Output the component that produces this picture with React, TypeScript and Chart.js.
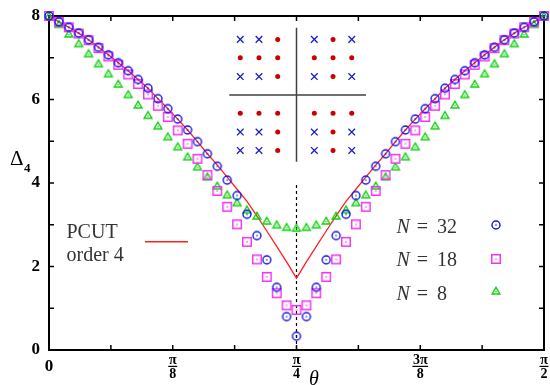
import { useEffect, useRef } from "react";
import { Chart, registerables } from "chart.js";
Chart.register(...registerables);

// theta / pi sampling
const thetaOverPi = [
  0, 0.01, 0.02, 0.03, 0.04, 0.05, 0.06, 0.07, 0.08, 0.09, 0.1, 0.11, 0.12, 0.13, 0.14, 0.15, 0.16,
  0.17, 0.18, 0.19, 0.2, 0.21, 0.22, 0.23, 0.24, 0.25, 0.26, 0.27, 0.28, 0.29, 0.3, 0.31, 0.32, 0.33,
  0.34, 0.35, 0.36, 0.37, 0.38, 0.39, 0.4, 0.41, 0.42, 0.43, 0.44, 0.45, 0.46, 0.47, 0.48, 0.49, 0.5,
];

const n32 = [
  8.0, 7.86, 7.73, 7.59, 7.43, 7.25, 7.07, 6.88, 6.69, 6.48, 6.27, 6.02, 5.78, 5.53, 5.27, 4.99, 4.7,
  4.4, 4.07, 3.7, 3.25, 2.74, 2.16, 1.5, 0.8, 0.33, 0.8, 1.5, 2.16, 2.74, 3.25, 3.7, 4.07, 4.4, 4.7,
  4.99, 5.27, 5.53, 5.78, 6.02, 6.27, 6.48, 6.69, 6.88, 7.07, 7.25, 7.43, 7.59, 7.73, 7.86, 8.0,
];
const n18 = [
  8.0, 7.86, 7.73, 7.58, 7.42, 7.23, 7.03, 6.83, 6.6, 6.37, 6.12, 5.85, 5.58, 5.26, 4.94, 4.58, 4.19,
  3.81, 3.43, 3.01, 2.59, 2.17, 1.75, 1.36, 1.07, 0.96, 1.07, 1.36, 1.75, 2.17, 2.59, 3.01, 3.43, 3.81,
  4.19, 4.58, 4.94, 5.26, 5.58, 5.85, 6.12, 6.37, 6.6, 6.83, 7.03, 7.23, 7.42, 7.58, 7.73, 7.86, 8.0,
];
const n8 = [
  8.0, 7.8, 7.57, 7.34, 7.1, 6.86, 6.62, 6.37, 6.12, 5.87, 5.62, 5.37, 5.11, 4.87, 4.63, 4.39, 4.15,
  3.93, 3.72, 3.53, 3.36, 3.21, 3.09, 3.0, 2.94, 2.92, 2.94, 3.0, 3.09, 3.21, 3.36, 3.53, 3.72, 3.93,
  4.15, 4.39, 4.63, 4.87, 5.11, 5.37, 5.62, 5.87, 6.12, 6.37, 6.62, 6.86, 7.1, 7.34, 7.57, 7.8, 8.0,
];
const pcut4 = [
  8.0, 7.86, 7.73, 7.59, 7.43, 7.25, 7.07, 6.88, 6.69, 6.48, 6.27, 6.02, 5.78, 5.53, 5.27, 4.99, 4.7,
  4.43, 4.14, 3.85, 3.56, 3.21, 2.85, 2.48, 2.11, 1.72, 2.11, 2.48, 2.85, 3.21, 3.56, 3.85, 4.14, 4.43,
  4.7, 4.99, 5.27, 5.53, 5.78, 6.02, 6.27, 6.48, 6.69, 6.88, 7.07, 7.25, 7.43, 7.59, 7.73, 7.86, 8.0,
];

const dashedX = [0.25, 0.25];
const dashedY = [0, 3.95];

const xTicks = [0, 0.0625, 0.125, 0.1875, 0.25, 0.3125, 0.375, 0.4375, 0.5];
const yTicks = [0, 1, 2, 3, 4, 5, 6, 7, 8];
const xLabelValues = [0, 0.125, 0.25, 0.375, 0.5];
const xLabelNum = ["0", "π", "π", "3π", "π"];
const xLabelDen = ["", "8", "4", "8", "2"];
const yLabelValues = [0, 2, 4, 6, 8];

// inset (lattice sketch)
const insetCols = [
  [0.1932, 0.2121, 0.231],
  [0.268, 0.2869, 0.3058],
];
const insetRows = [
  [7.44, 7.0, 6.55],
  [5.67, 5.22, 4.78],
];
const insetPattern = [
  [["xxo", "ooo", "xxo"], ["xox", "ooo", "xox"]],
  [["ooo", "xxo", "xxo"], ["ooo", "xox", "xox"]],
];
const insetH = { x0: 0.1821, x1: 0.3202, y: 6.11 };
const insetV = { x: 0.25, y0: 4.51, y1: 7.72 };

const legendLabels = ["N", "N", "N"];
const legendNums = ["32", "18", "8"];

const BLUE = "#1414e6";
const MAGENTA = "#f030f0";
const GREEN = "#10d010";
const RED = "#ff2020";
const SERIF = "'Liberation Serif', 'DejaVu Serif', serif";

function makeMarker(kind: string, color: string): HTMLCanvasElement {
  const c = document.createElement("canvas");
  c.width = 16;
  c.height = 16;
  const g = c.getContext("2d")!;
  g.strokeStyle = color;
  g.fillStyle = color;
  g.lineWidth = 1.4;
  g.beginPath();
  if (kind === "circle") {
    g.arc(8, 8, 4, 0, Math.PI * 2);
  } else if (kind === "square") {
    g.rect(3.75, 3.75, 8.5, 8.5);
  } else {
    g.moveTo(8, 4.3);
    g.lineTo(4.1, 11);
    g.lineTo(11.9, 11);
    g.closePath();
  }
  g.stroke();
  g.beginPath();
  g.arc(8, kind === "triangle" ? 8.8 : 8, 0.8, 0, Math.PI * 2);
  g.fill();
  return c;
}

export default function App() {
  const ref = useRef<HTMLCanvasElement | null>(null);
  useEffect(() => {
    if (!ref.current) return;
    const mCircle = makeMarker("circle", BLUE);
    const mSquare = makeMarker("square", MAGENTA);
    const mTri = makeMarker("triangle", GREEN);
    const pts = (ys: number[]) => thetaOverPi.map((x, i) => ({ x, y: ys[i] }));

    const deco = {
      id: "deco",
      beforeDatasetsDraw(chart: any) {
        const { ctx, chartArea: a } = chart;
        const x = chart.scales.x;
        const y = chart.scales.y;
        ctx.save();
        // inset
        ctx.strokeStyle = "#404040";
        ctx.lineWidth = 1.5;
        ctx.beginPath();
        ctx.moveTo(x.getPixelForValue(insetH.x0), y.getPixelForValue(insetH.y));
        ctx.lineTo(x.getPixelForValue(insetH.x1), y.getPixelForValue(insetH.y));
        ctx.moveTo(x.getPixelForValue(insetV.x), y.getPixelForValue(insetV.y0));
        ctx.lineTo(x.getPixelForValue(insetV.x), y.getPixelForValue(insetV.y1));
        ctx.stroke();
        for (let qr = 0; qr < 2; qr++) {
          for (let qc = 0; qc < 2; qc++) {
            const pat = insetPattern[qr][qc];
            for (let r = 0; r < 3; r++) {
              for (let cc = 0; cc < 3; cc++) {
                const px = x.getPixelForValue(insetCols[qc][cc]);
                const py = y.getPixelForValue(insetRows[qr][r]);
                if (pat[r][cc] === "x") {
                  ctx.strokeStyle = "#1a1acc";
                  ctx.lineWidth = 1.3;
                  ctx.beginPath();
                  ctx.moveTo(px - 3.3, py - 3.3);
                  ctx.lineTo(px + 3.3, py + 3.3);
                  ctx.moveTo(px + 3.3, py - 3.3);
                  ctx.lineTo(px - 3.3, py + 3.3);
                  ctx.stroke();
                } else {
                  ctx.fillStyle = "#cc0000";
                  ctx.beginPath();
                  ctx.arc(px, py, 2.5, 0, Math.PI * 2);
                  ctx.fill();
                }
              }
            }
          }
        }
        // frame
        ctx.strokeStyle = "#000";
        ctx.lineWidth = 2;
        ctx.strokeRect(a.left, a.top, a.right - a.left, a.bottom - a.top);
        ctx.lineWidth = 1.5;
        ctx.beginPath();
        for (const t of xTicks) {
          const px = x.getPixelForValue(t);
          ctx.moveTo(px, a.bottom);
          ctx.lineTo(px, a.bottom - 5);
          ctx.moveTo(px, a.top);
          ctx.lineTo(px, a.top + 5);
        }
        for (const t of yTicks) {
          const py = y.getPixelForValue(t);
          ctx.moveTo(a.left, py);
          ctx.lineTo(a.left + 5, py);
          ctx.moveTo(a.right, py);
          ctx.lineTo(a.right - 5, py);
        }
        ctx.stroke();
        ctx.restore();
      },
      afterDraw(chart: any) {
        const { ctx } = chart;
        const x = chart.scales.x;
        const y = chart.scales.y;
        ctx.save();
        ctx.fillStyle = "#000";
        // y tick labels
        ctx.font = `bold 17px ${SERIF}`;
        ctx.textAlign = "right";
        ctx.textBaseline = "middle";
        for (const v of yLabelValues) ctx.fillText(String(v), 40, y.getPixelForValue(v));
        // x tick labels
        ctx.textAlign = "center";
        xLabelValues.forEach((v, i) => {
          const px = x.getPixelForValue(v);
          if (!xLabelDen[i]) {
            ctx.font = `bold 17px ${SERIF}`;
            ctx.textBaseline = "middle";
            ctx.fillText(xLabelNum[i], px, 367);
          } else {
            ctx.font = `bold 14px ${SERIF}`;
            ctx.textBaseline = "alphabetic";
            ctx.fillText(xLabelNum[i], px, 364);
            ctx.fillText(xLabelDen[i], px, 378);
            const w = Math.max(9, ctx.measureText(xLabelNum[i]).width + 1);
            ctx.fillRect(px - w / 2, 365.8, w, 1.2);
          }
        });
        // axis titles
        ctx.textBaseline = "alphabetic";
        ctx.textAlign = "left";
        ctx.font = `21px ${SERIF}`;
        ctx.fillText("Δ", 10, 165);
        const dw = ctx.measureText("Δ").width;
        ctx.font = `bold 13px ${SERIF}`;
        ctx.fillText("4", 10 + dw + 0.5, 171.5);
        ctx.font = `italic 20px ${SERIF}`;
        ctx.fillText("θ", 309, 385);
        // legend
        ctx.fillStyle = "#333";
        ctx.font = `20px ${SERIF}`;
        ctx.fillText("PCUT", 66.5, 237.5);
        ctx.fillText("order 4", 66.5, 260.5);
        ctx.strokeStyle = RED;
        ctx.lineWidth = 1.5;
        ctx.beginPath();
        ctx.moveTo(145, 241.7);
        ctx.lineTo(188, 241.7);
        ctx.stroke();
        const baselines = [232.7, 266, 300];
        const markerY = [225, 259, 291];
        const markers = [mCircle, mSquare, mTri];
        legendLabels.forEach((lab, i) => {
          ctx.font = `italic 20px ${SERIF}`;
          ctx.textAlign = "left";
          ctx.fillText(lab, 396.5, baselines[i]);
          ctx.font = `20px ${SERIF}`;
          ctx.textAlign = "center";
          ctx.fillText("=", 422.5, baselines[i]);
          ctx.textAlign = "left";
          ctx.fillText(legendNums[i], 437, baselines[i]);
          ctx.drawImage(markers[i], 496 - 8, markerY[i] - 8);
        });
        ctx.restore();
      },
    };

    const chart = new Chart(ref.current, {
      type: "scatter",
      data: {
        datasets: [
          {
            label: "N = 32",
            data: pts(n32),
            pointStyle: mCircle as any,
            pointRadius: 4,
            showLine: false,
            clip: false as any,
          },
          {
            label: "N = 18",
            data: pts(n18),
            pointStyle: mSquare as any,
            pointRadius: 4,
            showLine: false,
            clip: false as any,
          },
          {
            label: "N = 8",
            data: pts(n8),
            pointStyle: mTri as any,
            pointRadius: 4,
            showLine: false,
            clip: false as any,
          },
          {
            label: "PCUT order 4",
            data: pts(pcut4),
            showLine: true,
            borderColor: RED,
            borderWidth: 1.3,
            pointRadius: 0,
            tension: 0,
            clip: false as any,
          },
          {
            label: "dashed",
            data: dashedX.map((x, i) => ({ x, y: dashedY[i] })),
            showLine: true,
            borderColor: "#000",
            borderWidth: 1.2,
            borderDash: [3, 3],
            pointRadius: 0,
          },
        ],
      },
      options: {
        animation: false,
        responsive: false,
        events: [],
        layout: { padding: { left: 49, right: 6, top: 16, bottom: 35 } },
        plugins: { legend: { display: false }, tooltip: { enabled: false } },
        scales: {
          x: { type: "linear", min: 0, max: 0.5, display: false },
          y: { type: "linear", min: 0, max: 8, display: false },
        },
      },
      plugins: [deco],
    });
    return () => chart.destroy();
  }, []);
  return (
    <div style={{ position: "absolute", left: 0, top: 0, width: 550, height: 385, background: "#fff" }}>
      <canvas ref={ref} width={550} height={385} />
    </div>
  );
}
